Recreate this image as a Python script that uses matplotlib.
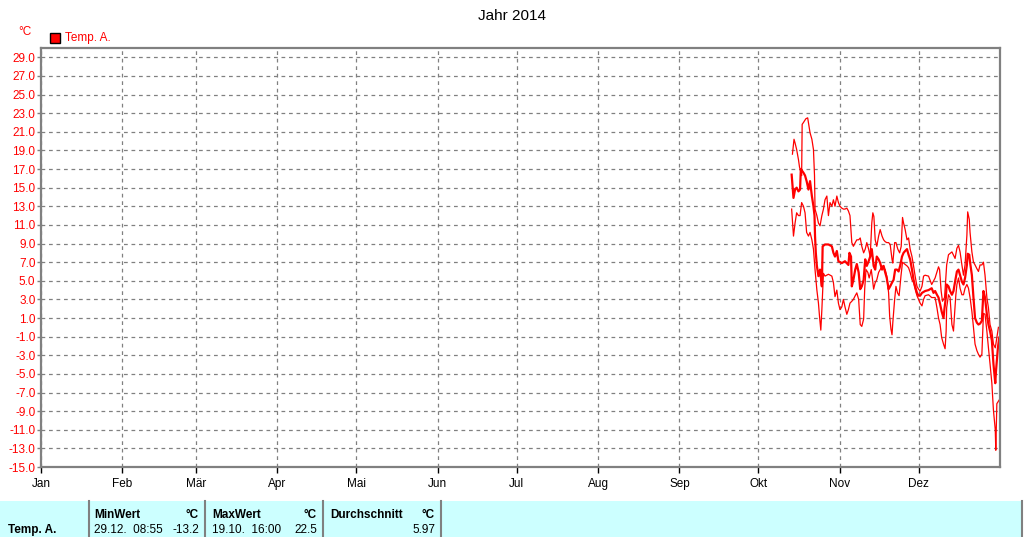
import matplotlib
matplotlib.use("Agg")
import matplotlib.pyplot as plt
from matplotlib.patches import Rectangle
from matplotlib.lines import Line2D

plt.rcParams['font.family'] = ['Liberation Sans', 'DejaVu Sans']

# month labels and first day of each month (day of year, 0 = 1 Jan)
months = ['Jan', 'Feb', 'Mär', 'Apr', 'Mai', 'Jun', 'Jul', 'Aug', 'Sep', 'Okt', 'Nov', 'Dez']
month_start = [0, 31, 59, 90, 120, 151, 181, 212, 243, 273, 304, 334]
yticks = list(range(-15, 30, 2))

# daily maximum (thin)
max_day = [286.0, 286.6, 287.0, 287.6, 288.3, 288.7, 289.3, 289.5, 289.7, 290.2, 291.1, 291.8,
           292.7, 293.4, 294.0, 294.4, 294.6, 295.3, 295.9, 296.5, 297.2, 297.8, 298.4, 299.1,
           299.7, 300.3, 301.0, 301.6, 302.2, 302.9, 303.5, 304.1, 304.8, 305.4, 306.0, 306.7,
           307.3, 307.9, 308.6, 309.2, 309.9, 310.5, 311.2, 311.8, 312.4, 313.1, 313.7, 314.3,
           315.0, 315.6, 316.2, 316.6, 317.0, 317.5, 318.1, 318.8, 319.4, 320.1, 320.7, 321.3,
           321.9, 322.6, 323.2, 323.9, 324.2, 324.9, 325.4, 326.1, 326.8, 327.4, 327.9, 328.3,
           328.9, 329.6, 330.2, 330.8, 331.5, 332.1, 332.7, 333.4, 334.0, 334.6, 335.3, 335.9,
           336.5, 337.8, 339.0, 340.3, 341.6, 342.0, 342.6, 343.1, 343.9, 344.7, 345.4, 346.7,
           347.9, 348.6, 349.2, 349.8, 350.5, 351.1, 351.7, 352.4, 352.7, 353.3, 353.6, 354.3,
           354.9, 355.5, 356.2, 356.8, 357.4, 358.1, 358.7, 359.3, 360.0, 360.6, 361.2, 361.9,
           362.5, 363.2, 363.8, 364.4]
max_val = [18.6, 20.2, 19.8, 19.1, 18.0, 17.2, 16.6, 16.3, 21.8, 22.0, 22.4, 22.5,
           20.9, 20.2, 19.1, 16.3, 12.7, 12.0, 11.2, 10.9, 12.0, 12.7, 13.7, 14.1,
           12.0, 13.4, 13.0, 13.7, 13.0, 14.1, 13.4, 13.0, 12.8, 12.7, 12.7, 12.8,
           12.5, 12.0, 9.1, 8.7, 9.1, 9.4, 9.4, 9.6, 8.7, 8.0, 8.4, 9.1,
           8.4, 7.6, 11.2, 12.3, 11.9, 9.4, 8.7, 9.8, 10.5, 9.8, 9.4, 9.2,
           9.1, 9.1, 8.9, 7.3, 6.9, 9.1, 9.1, 8.4, 8.0, 8.7, 11.8, 11.2,
           10.5, 9.4, 9.6, 8.4, 7.6, 6.6, 5.5, 4.4, 4.1, 3.9, 4.4, 5.5,
           5.6, 5.5, 4.6, 5.3, 6.5, 6.2, 3.9, 2.8, 3.2, 6.7, 7.8, 8.1,
           7.4, 8.5, 8.8, 8.1, 6.7, 5.6, 6.7, 9.9, 12.4, 11.6, 10.2, 8.1,
           7.0, 6.7, 6.3, 6.0, 6.7, 6.7, 7.0, 5.6, 3.2, 2.1, 0.3, -0.4,
           -1.8, -2.2, -1.1, 0.0]

# daily mean (thick)
mean_day = [285.7, 286.4, 287.0, 287.6, 288.3, 288.9, 289.2, 290.2, 290.8, 291.4, 292.1, 292.7,
            293.4, 294.0, 294.4, 294.6, 294.9, 295.3, 295.9, 296.5, 297.2, 297.5, 298.4, 299.7,
            301.0, 301.6, 302.2, 302.9, 303.5, 304.8, 306.0, 307.3, 307.7, 308.3, 308.6, 309.2,
            309.9, 310.5, 311.2, 311.8, 312.4, 313.1, 313.7, 314.3, 315.0, 315.6, 316.2, 316.9,
            317.5, 318.1, 318.8, 319.4, 320.1, 320.7, 321.3, 321.9, 322.6, 323.2, 323.9, 324.5,
            325.1, 325.8, 326.4, 327.0, 327.7, 328.3, 328.9, 329.6, 330.2, 330.8, 331.5, 332.1,
            332.7, 333.4, 334.0, 334.6, 335.3, 335.9, 336.5, 337.8, 339.0, 339.7, 340.3, 341.0,
            341.6, 342.2, 342.8, 343.5, 343.9, 344.4, 344.7, 345.4, 346.0, 346.7, 347.3, 347.9,
            348.6, 349.2, 349.8, 350.5, 351.1, 351.7, 352.4, 352.7, 353.3, 353.6, 354.3, 354.9,
            355.5, 356.2, 356.8, 357.4, 358.1, 358.7, 359.3, 360.0, 360.6, 361.2, 361.9, 362.5,
            363.2, 363.5, 364.2, 364.7]
mean_val = [16.4, 13.9, 14.8, 15.0, 14.6, 14.8, 17.0, 16.6, 16.3, 15.7, 14.8, 15.7,
            14.1, 13.0, 12.0, 9.8, 8.0, 6.6, 5.5, 6.2, 4.4, 8.7, 8.9, 8.9,
            8.7, 8.0, 7.6, 8.2, 7.1, 6.9, 7.1, 6.7, 8.0, 7.6, 4.4, 5.1,
            6.2, 6.8, 5.9, 4.1, 4.4, 5.1, 7.3, 6.6, 7.1, 7.6, 8.4, 6.6,
            6.2, 7.6, 7.3, 6.9, 6.2, 6.6, 5.9, 5.3, 4.1, 4.4, 4.8, 5.1,
            6.2, 6.2, 6.0, 6.6, 7.6, 8.0, 8.2, 8.4, 7.8, 7.3, 6.2, 5.1,
            4.4, 3.7, 3.4, 3.4, 3.7, 3.8, 3.9, 4.0, 4.2, 3.7, 3.9, 3.5,
            3.2, 2.5, 1.7, 1.0, 2.1, 3.2, 4.6, 4.4, 3.9, 3.5, 3.9, 4.9,
            6.0, 6.2, 5.6, 4.9, 4.6, 5.3, 6.7, 7.9, 7.8, 7.0, 5.6, 3.2,
            1.0, 0.5, 0.3, 0.4, 0.7, 3.9, 3.2, 1.4, 0.3, -0.4, -1.4, -3.9,
            -6.0, -4.6, -2.2, -1.1]

# daily minimum (thin)
min_day = [285.7, 286.4, 287.0, 287.6, 288.3, 288.9, 289.5, 290.2, 290.8, 291.4, 292.1, 292.7,
           293.4, 294.0, 294.6, 295.3, 295.9, 296.3, 296.8, 297.2, 297.8, 298.4, 299.7, 301.0,
           301.6, 302.2, 302.9, 303.5, 304.1, 304.8, 305.4, 306.0, 306.7, 307.3, 307.9, 308.6,
           309.2, 309.9, 310.5, 311.2, 311.8, 312.4, 313.1, 313.5, 314.0, 314.7, 315.2, 316.0,
           316.5, 316.9, 317.5, 318.1, 318.8, 319.4, 320.1, 321.3, 321.9, 322.6, 323.0, 323.5,
           323.9, 324.2, 324.9, 325.4, 326.0, 326.6, 327.3, 327.9, 328.7, 329.6, 330.2, 330.8,
           331.5, 332.1, 332.7, 333.4, 334.0, 334.6, 335.3, 335.9, 336.5, 337.8, 339.0, 340.3,
           341.0, 341.6, 342.2, 342.8, 343.5, 344.1, 344.5, 344.7, 345.4, 346.0, 346.7, 347.3,
           347.7, 348.2, 348.6, 349.2, 349.8, 350.5, 351.1, 351.7, 352.4, 353.0, 353.6, 354.3,
           354.9, 355.5, 356.2, 356.8, 357.4, 358.1, 358.7, 359.3, 360.0, 360.6, 361.2, 361.9,
           362.5, 363.2, 363.4, 363.8, 364.7]
min_val = [12.7, 9.8, 11.2, 12.3, 12.0, 12.0, 13.4, 13.0, 12.3, 10.2, 9.8, 10.2,
           9.4, 8.4, 6.2, 4.0, 2.6, 1.2, -0.3, 1.9, 5.8, 5.5, 5.7, 5.5,
           4.8, 3.3, 4.0, 2.6, 1.9, 2.2, 3.0, 2.2, 1.4, 1.9, 2.6, 2.8,
           3.0, 3.4, 3.7, 3.0, 0.3, 0.1, 0.9, 4.1, 6.2, 5.9, 5.3, 6.2,
           5.1, 4.1, 4.8, 5.1, 5.9, 6.2, 6.6, 6.2, 5.5, 3.7, 1.2, -0.2,
           -0.8, 0.5, 3.0, 4.4, 3.7, 3.4, 5.5, 7.0, 6.8, 6.6, 6.4, 5.9,
           5.1, 4.8, 4.1, 3.4, 3.0, 2.6, 2.3, 3.0, 3.4, 3.5, 3.2, 3.2,
           2.1, 1.0, 0.3, -1.1, -1.8, -2.3, -0.4, 2.1, 3.5, 3.2, 0.3, -0.4,
           1.4, 3.5, 4.6, 5.3, 4.2, 3.5, 3.5, 4.2, 4.6, 4.2, 3.2, 1.7,
           0.0, -1.8, -2.5, -2.9, -3.2, -2.9, 1.5, 1.4, -0.4, -2.2, -3.9, -6.0,
           -8.9, -11.0, -13.2, -8.2, -7.8]

series_name = 'Temp. A.'
stats_min = ('29.12.  08:55', '-13.2')
stats_max = ('19.10.  16:00', '22.5')
stats_avg = '5.97'

red = '#ff0000'
gray = '#808080'

fig = plt.figure(figsize=(10.24, 5.37), dpi=100)
ax = fig.add_axes([41 / 1024, 1 - 467 / 537, 959 / 1024, 419 / 537])

ax.plot(max_day, max_val, color=red, lw=0.9)
ax.plot(min_day, min_val, color=red, lw=0.9)
ax.plot(mean_day, mean_val, color=red, lw=1.6)

ax.set_xlim(0, 365)
ax.set_ylim(-15, 30)
ax.set_xticks(month_start)
ax.set_xticklabels(months, fontsize=8.5, color='black')
ax.set_yticks(yticks)
ax.set_yticklabels([f'{v:.1f}' for v in yticks], fontsize=8.5, color=red)
ax.tick_params(axis='x', length=4, width=1, color='black', pad=4)
ax.tick_params(axis='y', length=3, width=1, color=gray, pad=1)
ax.grid(True, color=gray, linestyle=(0, (3, 3)), linewidth=0.9)
for s in ax.spines.values():
    s.set_color(gray)
    s.set_linewidth(1.6)

fig.text(0.5, 1 - 16 / 537, 'Jahr 2014', ha='center', va='center', fontsize=11)
fig.text(25 / 1024, 1 - 32 / 537, '°C', ha='center', va='center', fontsize=8.5, color=red)
fig.patches.append(Rectangle((50 / 1024, 1 - 43 / 537), 10 / 1024, 10 / 537,
                             transform=fig.transFigure, facecolor=red, edgecolor='black', lw=1))
fig.text(65 / 1024, 1 - 38 / 537, series_name, ha='left', va='center', fontsize=8.5, color=red)

# statistics table at the bottom
fig.patches.append(Rectangle((0, 0), 1022 / 1024, 36 / 537, transform=fig.transFigure,
                             facecolor='#ccffff', edgecolor='none'))
for xs in [89, 205, 323, 441, 1022]:
    fig.add_artist(Line2D([xs / 1024, xs / 1024], [0, 36 / 537], transform=fig.transFigure,
                          color=gray, lw=1.5))

r1 = 1 - 515 / 537
r2 = 1 - 530 / 537
fs = 8.5
fig.text(8 / 1024, r2, series_name, fontsize=fs, weight='bold', va='center')
cols = [(94, 199, 'MinWert', stats_min[0], stats_min[1]),
        (212, 317, 'MaxWert', stats_max[0], stats_max[1]),
        (330, 435, 'Durchschnitt', '', stats_avg)]
for xl, xr, head, left, right in cols:
    fig.text(xl / 1024, r1, head, fontsize=fs, weight='bold', va='center')
    fig.text(xr / 1024, r1, '°C', fontsize=fs, weight='bold', va='center', ha='right')
    if left:
        fig.text(xl / 1024, r2, left, fontsize=fs, va='center')
    fig.text(xr / 1024, r2, right, fontsize=fs, va='center', ha='right')

fig.savefig('out.png', dpi=100)
